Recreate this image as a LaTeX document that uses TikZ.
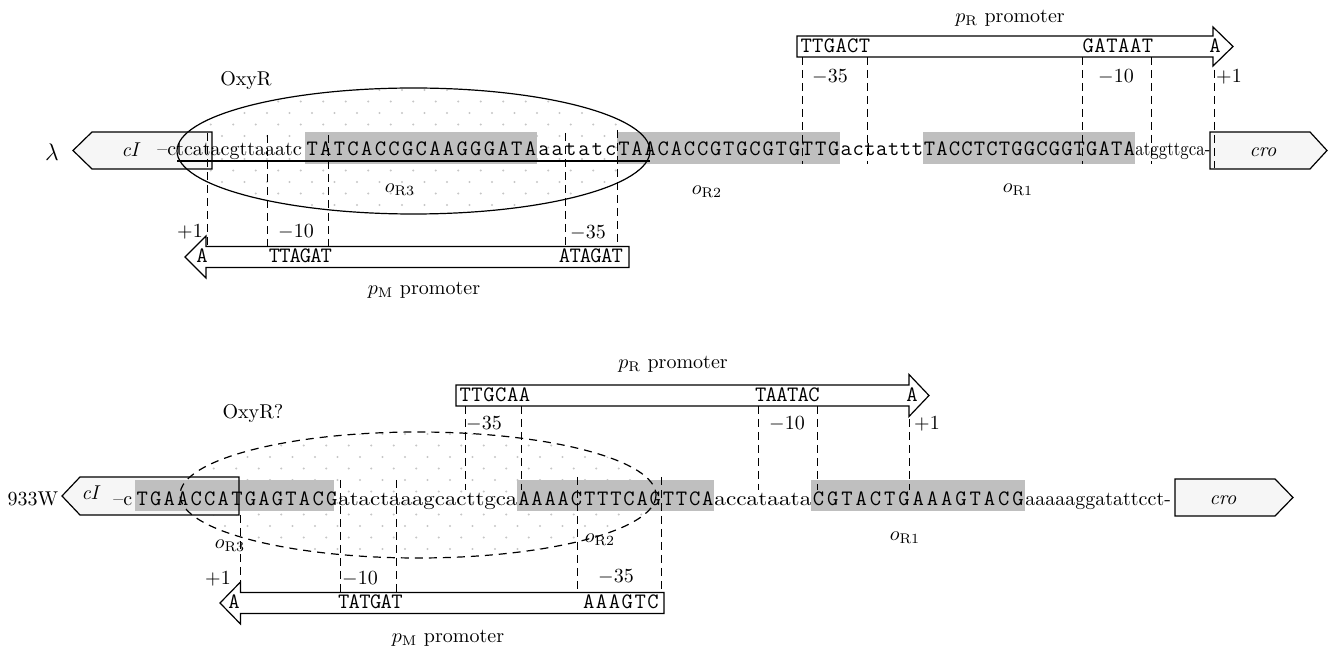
\documentclass[tikz,border=0pt]{standalone}
\usepackage{amsmath}
\usepackage{graphicx}
\usepackage{tikz}
\usetikzlibrary{calc, positioning}

% letter-spaced sequence: every base in a box of equal width
\newlength{\seqpitch}
\newcommand{\seq}[2]{\setlength{\seqpitch}{#1}\seqloop#2\relax}
\newcommand{\seqloop}[1]{\ifx\relax#1\else\makebox[\seqpitch]{#1}\expandafter\seqloop\fi}
\newcommand{\fitw}[2]{\resizebox{#1}{\height}{#2}}

\begin{document}
\begin{tikzpicture}[x=0.5pt, y=-0.5pt,
  gene/.style={draw, fill=gray!7, semithick},
  prom/.style={draw, fill=white, semithick},
  site/.style={fill=gray!50},
  guide/.style={line width=0.5pt, dash pattern=on 4pt off 2.5pt},
  seqt/.style={anchor=base west, inner sep=0pt, font=\fontsize{11}{13}\selectfont\ttfamily},
  seqs/.style={anchor=base west, inner sep=0pt},
  lbl/.style={inner sep=0pt},
  dotc/.style={fill=gray!45}]
  \useasboundingbox (0,0) rectangle (1330,646);

  % --- lambda ---
  % OxyR dots
  \begin{scope}
    \clip (413.5,151) ellipse [x radius=236.5, y radius=63];
    \foreach \r in {0,...,11}
      \foreach \c in {0,...,21}
        \fill[dotc] ({177+22.5*\c+11.25*mod(\r,2)},{90+11.5*\r}) circle (0.6pt);
  \end{scope}
  % genes
  \draw[gene] (212,132) -- (92,132) -- (73,150.5) -- (92,169) -- (212,169) -- cycle;
  \draw[gene] (1210,132) -- (1310,132) -- (1327,150.5) -- (1310,169) -- (1210,169) -- cycle;
  % operator sites
  \fill[site] (305,132) rectangle (537,164);
  \fill[site] (617,132) rectangle (840,164);
  \fill[site] (923,132) rectangle (1135,164);
  % -35, -10 and +1 marks
  \foreach \x in {802,867,1082,1151} \draw[guide] (\x,57) -- (\x,164);
  \draw[guide] (1214,57) -- (1214,168);
  \foreach \x/\t in {207/133,267/135,328/135,565/133,617/130} \draw[guide] (\x,\t) -- (\x,246.5);
  \draw[semithick] (413.5,151) ellipse [x radius=236.5, y radius=63];
  \draw[semithick] (177,161) -- (650,161);
  % promoters
  \draw[prom] (797,36) -- (1213,36) -- (1213,27) -- (1233,46.5) -- (1213,66) -- (1213,57) -- (797,57) -- cycle;
  \draw[prom] (629,246.5) -- (206,246.5) -- (206,236) -- (185,257) -- (206,278) -- (206,267.5) -- (629,267.5) -- cycle;

  \node[lbl, font=\large] (lamA) at (52,152) {$\lambda$};
  \node[lbl, font=\itshape] (cIa) at (130,150) {cI};
  \node[lbl, font=\itshape] (croA) at (1263,152) {cro};
  \node[seqs] (sqA1) at (157,156) {--ctcatacgttaaatc};
  \node[seqt] (sqA2) at (305,156) {\seq{6.82pt}{TATCACCGCAAGGGATA}};
  \node[seqt] (sqA3) at (537,156) {\seq{6.67pt}{aatatc}};
  \node[seqt] (sqA4) at (617,156) {\seq{6.56pt}{TAACACCGTGCGTGTTG}};
  \node[seqt] (sqA5) at (840,156) {\seq{5.93pt}{actattt}};
  \node[seqt] (sqA6) at (923,156) {\seq{6.24pt}{TACCTCTGGCGGTGATA}};
  \node[seqs] (sqA7) at (1135,156) {\fitw{37.5pt}{atggttgca-}};
  \node[lbl] (oxyA) at (246,81) {OxyR};
  \node[lbl] (or3A) at (400,190) {$o_{\mathrm{R3}}$};
  \node[lbl] (or2A) at (707,192) {$o_{\mathrm{R2}}$};
  \node[lbl] (or1A) at (1018,190) {$o_{\mathrm{R1}}$};
  \node[lbl] (prA) at (1010,18) {$p_{\mathrm{R}}$ promoter};
  \node[seqt] (prA35) at (800,52.5) {\seq{5.83pt}{TTGACT}};
  \node[seqt] (prA10) at (1082,52.5) {\seq{5.92pt}{GATAAT}};
  \node[seqt, anchor=base] (prAs) at (1215,52.5) {A};
  \node[lbl] (prAm35) at (830,77) {$-$35};
  \node[lbl] (prAm10) at (1116,77) {$-$10};
  \node[lbl] (prAp1) at (1229,77) {+1};
  \node[lbl] (pmA) at (424,290) {$p_{\mathrm{M}}$ promoter};
  \node[seqt, anchor=base] (pmAs) at (202,263) {A};
  \node[seqt] (pmA10) at (269,263) {\seq{5.17pt}{TTAGAT}};
  \node[seqt] (pmA35) at (559,263) {\seq{5.25pt}{ATAGAT}};
  \node[lbl] (pmAp1) at (190,232) {+1};
  \node[lbl] (pmAm10) at (296,232) {$-$10};
  \node[lbl] (pmAm35) at (588,233) {$-$35};

  % --- 933W ---
  \begin{scope}
    \clip (418,495) ellipse [x radius=238, y radius=63];
    \foreach \r in {0,...,11}
      \foreach \c in {0,...,21}
        \fill[dotc] ({180+22.5*\c+11.25*mod(\r,2)},{434+11.5*\r}) circle (0.6pt);
  \end{scope}
  \fill[gray!7] (239,477) -- (80,477) -- (62,496) -- (80,515) -- (239,515) -- cycle;
  \draw[gene] (1175,479) -- (1275,479) -- (1293,497.5) -- (1275,516) -- (1175,516) -- cycle;
  \fill[site] (135,480) rectangle (334,511);
  \fill[site] (517,480) rectangle (714,511);
  \fill[site] (811,480) rectangle (1025,511);
  \draw[semithick] (239,477) -- (80,477) -- (62,496) -- (80,515) -- (239,515) -- cycle;
  \foreach \x in {465,521,758,817,909} \draw[guide] (\x,406) -- (\x,490);
  \foreach \x/\t in {240/515,340/480,396/480,577/477,661/477} \draw[guide] (\x,\t) -- (\x,592.5);
  \draw[semithick, dash pattern=on 4pt off 3pt] (418,495) ellipse [x radius=238, y radius=63];
  \draw[prom] (456,385) -- (909,385) -- (909,374.5) -- (929,395.5) -- (909,416.5) -- (909,406) -- (456,406) -- cycle;
  \draw[prom] (664,592.5) -- (240.5,592.5) -- (240.5,582) -- (220,603) -- (240.5,624) -- (240.5,613.5) -- (664,613.5) -- cycle;

  \node[lbl] (wB) at (33,499) {933W};
  \node[lbl, font=\itshape] (cIb) at (90,493) {cI};
  \node[lbl, font=\itshape] (croB) at (1223,500) {cro};
  \node[seqs] (sqB1) at (113,506) {--c};
  \node[seqt] (sqB2) at (135,506) {\seq{6.77pt}{TGAACCATGAGTACG}};
  \node[seqs] (sqB3) at (338,506) {\fitw{89.5pt}{atactaaagcacttgca}};
  \node[seqt] (sqB4) at (517,506) {\seq{6.57pt}{AAAACTTTCAGTTCA}};
  \node[seqs] (sqB5) at (714,506) {\fitw{48.5pt}{accataata}};
  \node[seqt] (sqB6) at (811,506) {\seq{7.13pt}{CGTACTGAAAGTACG}};
  \node[seqs] (sqB7) at (1025,506) {aaaaaggatattcct-};
  \node[lbl] (oxyB) at (253,414) {OxyR?};
  \node[lbl] (or3B) at (230,546) {$o_{\mathrm{R3}}$};
  \node[lbl] (or2B) at (600,540) {$o_{\mathrm{R2}}$};
  \node[lbl] (or1B) at (905,538) {$o_{\mathrm{R1}}$};
  \node[lbl] (prB) at (673,364) {$p_{\mathrm{R}}$ promoter};
  \node[seqt] (prB35) at (459,401.5) {\seq{5.92pt}{TTGCAA}};
  \node[seqt] (prB10) at (755,401.5) {\seq{5.33pt}{TAATAC}};
  \node[seqt, anchor=base] (prBs) at (912,401.5) {A};
  \node[lbl] (prBm35) at (484,424) {$-$35};
  \node[lbl] (prBm10) at (787,424) {$-$10};
  \node[lbl] (prBp1) at (927,424) {+1};
  \node[lbl] (pmB) at (448,638) {$p_{\mathrm{M}}$ promoter};
  \node[seqt, anchor=base] (pmBs) at (234,609) {A};
  \node[seqt] (pmB10) at (338,609) {\seq{5.33pt}{TATGAT}};
  \node[seqt] (pmB35) at (582,609) {\seq{6.42pt}{AAAGTC}};
  \node[lbl] (pmBp1) at (218,579) {+1};
  \node[lbl] (pmBm10) at (360,579) {$-$10};
  \node[lbl] (pmBm35) at (616,577) {$-$35};
\end{tikzpicture}
\end{document}
